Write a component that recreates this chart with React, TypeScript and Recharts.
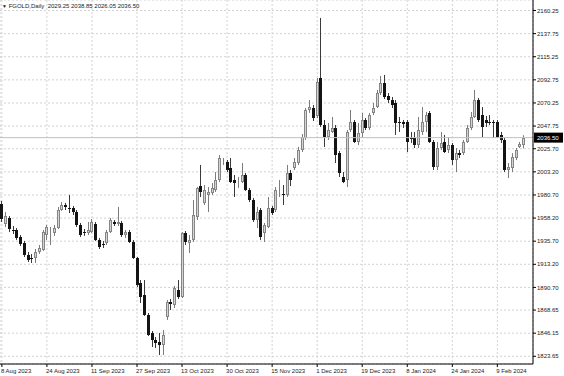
import { ComposedChart, Bar, XAxis, YAxis, CartesianGrid, ReferenceLine } from 'recharts';

// FGOLD daily bars, 8 Aug 2023 .. 16 Feb 2024
const open = [
  1971.9, 1952.4, 1958.3, 1946.6, 1946.6, 1939.8, 1933.9, 1922.3, 1919.3, 1919.3,
  1925.2, 1927.1, 1941.7, 1944.6, 1943.7, 1948.5, 1966.1, 1970.9, 1968.0, 1968.0,
  1964.1, 1951.5, 1944.6, 1943.7, 1944.6, 1952.4, 1936.9, 1933.0, 1933.9, 1944.6,
  1954.4, 1952.4, 1953.4, 1941.7, 1944.6, 1934.9, 1919.3, 1895.0, 1883.3, 1863.9,
  1846.3, 1839.5, 1837.6, 1834.6, 1861.9, 1876.5, 1873.6, 1888.2, 1881.4, 1943.7,
  1933.9, 1936.9, 1959.2, 1989.4, 1972.9, 1980.7, 1982.6, 1985.5, 1995.3, 2012.8,
  2012.8, 2006.9, 1995.3, 1993.3, 1993.3, 2000.1, 1985.5, 1975.8, 1956.3, 1966.1,
  1943.7, 1949.5, 1968.0, 1966.1, 1985.5, 1981.6, 1980.7, 2002.1, 2006.9, 2011.8,
  2024.5, 2036.1, 2063.4, 2065.3, 2057.6, 2094.5, 2048.8, 2037.1, 2042.0, 2045.9,
  2021.5, 1998.2, 1995.3, 2043.9, 2051.7, 2032.2, 2041.0, 2053.7, 2045.9, 2060.5,
  2066.3, 2079.9, 2089.7, 2077.0, 2073.1, 2070.2, 2051.7, 2051.7, 2051.7, 2036.1,
  2036.1, 2029.3, 2042.0, 2051.7, 2060.5, 2032.2, 2007.9, 2026.4, 2032.2, 2024.5,
  2029.3, 2014.7, 2021.5, 2021.5, 2032.2, 2045.9, 2056.6, 2073.1, 2058.5, 2053.7,
  2051.7, 2051.7, 2051.7, 2039.1, 2034.2, 2005.0, 2006.9, 2016.7, 2027.4, 2029.25,
];
const high = [
  1974.8, 1964.1, 1960.2, 1950.5, 1948.5, 1941.7, 1935.9, 1925.2, 1923.2, 1928.1,
  1932.0, 1946.6, 1951.5, 1949.5, 1951.5, 1969.0, 1973.8, 1972.9, 1980.7, 1970.0,
  1966.1, 1953.4, 1947.6, 1954.4, 1957.3, 1954.4, 1938.8, 1935.9, 1946.6, 1958.3,
  1956.3, 1969.0, 1955.4, 1946.6, 1946.6, 1936.9, 1920.3, 1897.9, 1897.9, 1865.8,
  1848.3, 1842.4, 1846.3, 1849.3, 1878.5, 1879.4, 1892.1, 1897.9, 1944.6, 1945.6,
  1941.7, 1975.8, 1988.4, 2009.9, 1990.4, 1988.4, 1992.3, 2003.0, 2019.6, 2016.7,
  2014.7, 2016.7, 2000.1, 1998.2, 2011.8, 2002.1, 1987.5, 1977.7, 1969.0, 1968.0,
  1953.4, 1978.7, 1970.0, 1988.4, 1995.3, 1990.4, 2009.9, 2005.0, 2016.7, 2027.4,
  2040.0, 2065.3, 2073.1, 2068.3, 2094.5, 2153.0, 2053.7, 2050.7, 2056.6, 2048.8,
  2023.5, 2003.0, 2043.9, 2063.4, 2053.7, 2050.7, 2060.5, 2055.6, 2060.5, 2070.2,
  2082.9, 2096.5, 2097.5, 2079.9, 2076.1, 2073.1, 2056.6, 2053.7, 2053.7, 2042.0,
  2042.0, 2056.6, 2066.3, 2061.5, 2062.4, 2034.2, 2032.2, 2042.0, 2039.1, 2037.1,
  2031.3, 2026.4, 2024.5, 2034.2, 2048.8, 2061.5, 2082.9, 2075.1, 2066.3, 2057.6,
  2058.5, 2053.7, 2053.7, 2042.0, 2036.1, 2011.8, 2021.5, 2026.4, 2032.2, 2038.85,
];
const low = [
  1954.4, 1949.5, 1944.6, 1942.7, 1936.9, 1931.0, 1920.3, 1915.4, 1914.5, 1914.5,
  1923.2, 1926.2, 1936.9, 1932.0, 1940.8, 1947.6, 1965.1, 1966.1, 1963.1, 1961.2,
  1949.5, 1939.8, 1940.8, 1941.7, 1943.7, 1935.9, 1928.1, 1929.1, 1932.0, 1943.7,
  1950.5, 1950.5, 1939.8, 1938.8, 1933.9, 1918.4, 1891.1, 1875.5, 1862.9, 1843.4,
  1832.7, 1831.7, 1824.9, 1824.9, 1859.0, 1868.7, 1870.7, 1879.4, 1880.4, 1932.0,
  1924.2, 1934.9, 1956.3, 1978.7, 1970.9, 1964.1, 1980.7, 1983.6, 1993.3, 2009.9,
  2003.0, 1992.3, 1978.7, 1987.5, 1992.3, 1984.6, 1973.8, 1954.4, 1948.5, 1936.9,
  1934.9, 1948.5, 1961.2, 1964.1, 1978.7, 1970.9, 1978.7, 1989.4, 2005.0, 2009.9,
  2022.5, 2034.2, 2060.5, 2052.7, 2055.6, 2046.9, 2027.4, 2034.2, 2041.0, 2011.8,
  1998.2, 1992.3, 1988.4, 2042.0, 2031.3, 2029.3, 2037.1, 2043.9, 2043.9, 2058.5,
  2065.3, 2078.0, 2074.1, 2070.2, 2065.3, 2039.1, 2042.0, 2045.9, 2022.5, 2031.3,
  2026.4, 2026.4, 2039.1, 2042.0, 2031.3, 2005.0, 2005.0, 2024.5, 2021.5, 2021.5,
  2009.9, 2003.0, 2016.7, 2019.6, 2031.3, 2043.9, 2055.6, 2051.7, 2037.1, 2046.9,
  2048.8, 2036.1, 2036.1, 2031.3, 2003.0, 1997.2, 2003.0, 2014.7, 2026.4, 2026.05,
];
const close = [
  1957.3, 1960.2, 1947.6, 1945.6, 1938.8, 1933.0, 1922.3, 1917.4, 1918.4, 1925.2,
  1929.1, 1944.6, 1949.5, 1945.6, 1948.5, 1966.1, 1970.9, 1969.0, 1967.8, 1964.1,
  1951.5, 1941.7, 1943.7, 1946.6, 1954.4, 1936.9, 1930.0, 1932.0, 1944.6, 1956.3,
  1952.4, 1954.4, 1941.7, 1944.6, 1934.9, 1919.3, 1893.1, 1881.4, 1863.9, 1844.4,
  1839.5, 1836.6, 1834.6, 1844.4, 1876.5, 1874.6, 1890.1, 1881.4, 1943.7, 1934.9,
  1936.9, 1961.2, 1987.5, 1983.6, 1985.5, 1983.6, 1987.5, 1995.3, 2016.7, 2013.5,
  2005.0, 1993.3, 1992.3, 1994.3, 2000.1, 1985.5, 1975.8, 1956.3, 1964.1, 1939.8,
  1951.5, 1968.0, 1963.1, 1985.5, 1985.9, 1980.7, 2002.1, 1995.3, 2012.8, 2024.5,
  2037.1, 2063.4, 2066.3, 2055.6, 2090.7, 2048.8, 2037.1, 2043.9, 2045.9, 2019.6,
  2002.1, 1993.3, 2042.0, 2051.7, 2032.2, 2041.0, 2053.7, 2045.9, 2058.5, 2065.3,
  2079.9, 2089.7, 2076.1, 2073.1, 2068.3, 2050.7, 2051.2, 2049.8, 2032.2, 2035.2,
  2029.3, 2043.9, 2051.7, 2058.5, 2032.2, 2007.9, 2026.4, 2031.3, 2022.5, 2029.3,
  2014.7, 2021.5, 2019.6, 2032.2, 2045.9, 2056.6, 2073.1, 2053.7, 2046.9, 2050.7,
  2051.2, 2050.7, 2037.1, 2034.2, 2005.0, 2007.9, 2017.6, 2024.5, 2030.3, 2036.5,
];

const tickBars = [0, 12, 24, 36, 48, 60, 72, 84, 96, 108, 120, 132];
const tickLabels = [
  '8 Aug 2023', '24 Aug 2023', '11 Sep 2023', '27 Sep 2023', '13 Oct 2023', '30 Oct 2023',
  '15 Nov 2023', '1 Dec 2023', '19 Dec 2023', '8 Jan 2024', '24 Jan 2024', '9 Feb 2024',
];
const priceTicks = [
  2160.25, 2137.75, 2115.25, 2092.75, 2070.25, 2047.75, 2025.7, 2003.2,
  1980.7, 1958.2, 1935.7, 1913.2, 1890.7, 1868.65, 1846.15, 1823.65,
];
const lastPrice = 2036.5;
const symbol = 'FGOLD,Daily';

const FONT = '"Liberation Sans", Arial, sans-serif';
const SHIFT_BARS = 2; // empty space right of the last bar

const rows: any[] = open.map((o, i) => ({
  bar: i,
  open: o,
  high: high[i],
  low: low[i],
  close: close[i],
}));
for (let k = 0; k < SHIFT_BARS; k++) rows.push({ bar: open.length + k });

const Candle = (props: any) => {
  const { x, y, width, height, payload } = props;
  if (!payload || payload.open == null || isNaN(y)) return <g />;
  const { open: o, high: h, low: l, close: c } = payload;
  const top = Math.min(y, y + height);
  const bottom = Math.max(y, y + height);
  const span = h - l || 1;
  const toY = (v: number) => top + ((h - v) / span) * (bottom - top);
  const n = Math.round(x + width / 2 - 0.5);
  const up = c >= o;
  const bTop = Math.round(toY(Math.max(o, c)));
  const bBot = Math.max(Math.round(toY(Math.min(o, c))), bTop + 1);
  return (
    <g>
      <line x1={n + 0.5} x2={n + 0.5} y1={top} y2={bottom} stroke={up ? '#7c7c7c' : '#3a3a3a'} strokeWidth={1} />
      {up ? (
        <rect x={n - 0.5} y={bTop + 0.5} width={2} height={Math.max(bBot - bTop - 1, 0)}
          fill="#d4d4d4" stroke="#858585" strokeWidth={1} />
      ) : (
        <rect x={n - 1} y={bTop} width={3} height={bBot - bTop} fill="#141414" />
      )}
    </g>
  );
};

const DateTick = (props: any) => {
  const { x, y, payload } = props;
  const idx = tickBars.indexOf(payload.value);
  return (
    <text x={x - 1} y={y + 6} textAnchor="start" fontSize={6} fontFamily={FONT} fill="#222">
      {idx >= 0 ? tickLabels[idx] : ''}
    </text>
  );
};

const PriceBox = (props: any) => {
  const vb = props.viewBox || {};
  const bx = vb.x + vb.width + 1;
  return (
    <g>
      <rect x={bx} y={vb.y - 5} width={29} height={10} fill="#000" />
      <text x={bx + 3} y={vb.y + 2.2} fontSize={6} fontFamily={FONT} fill="#fff">
        {lastPrice.toFixed(2)}
      </text>
    </g>
  );
};

export default function App() {
  return (
    <div style={{ position: 'absolute', left: 0, top: 0, width: 564, height: 376, background: '#fff' }}>
      <ComposedChart width={564} height={376} data={rows} margin={{ top: 0, right: 0, bottom: 0, left: 0 }}>
        <CartesianGrid stroke="#d2d2d2" strokeDasharray="2 2" />
        <XAxis
          dataKey="bar"
          ticks={tickBars}
          interval={0}
          height={12}
          tickSize={3}
          tickMargin={0}
          axisLine={{ stroke: '#000' }}
          tickLine={{ stroke: '#000' }}
          tick={<DateTick />}
        />
        <YAxis
          orientation="right"
          width={31}
          domain={[1816.15, 2170.47]}
          allowDataOverflow
          ticks={priceTicks}
          interval={0}
          tickSize={3}
          tickMargin={1}
          tickFormatter={(v: number) => v.toFixed(2)}
          axisLine={{ stroke: '#000' }}
          tickLine={{ stroke: '#000' }}
          tick={{ fontSize: 6, fontFamily: FONT, fill: '#222' }}
        />
        <ReferenceLine y={lastPrice} stroke="#c0c0c0" strokeWidth={1} label={<PriceBox />} />
        <Bar
          dataKey={(d: any) => (d.open == null ? null : [d.low, d.high])}
          shape={(p: any) => <Candle {...p} />}
          isAnimationActive={false}
        />
      </ComposedChart>
      <div
        style={{
          position: 'absolute', left: 2, top: 2, fontFamily: FONT, fontSize: 6,
          color: '#222', whiteSpace: 'pre', lineHeight: '8px',
        }}
      >
        <span style={{ fontSize: 5 }}>▼</span> {symbol}  2029.25 2038.85 2026.05 2036.50
      </div>
    </div>
  );
}
